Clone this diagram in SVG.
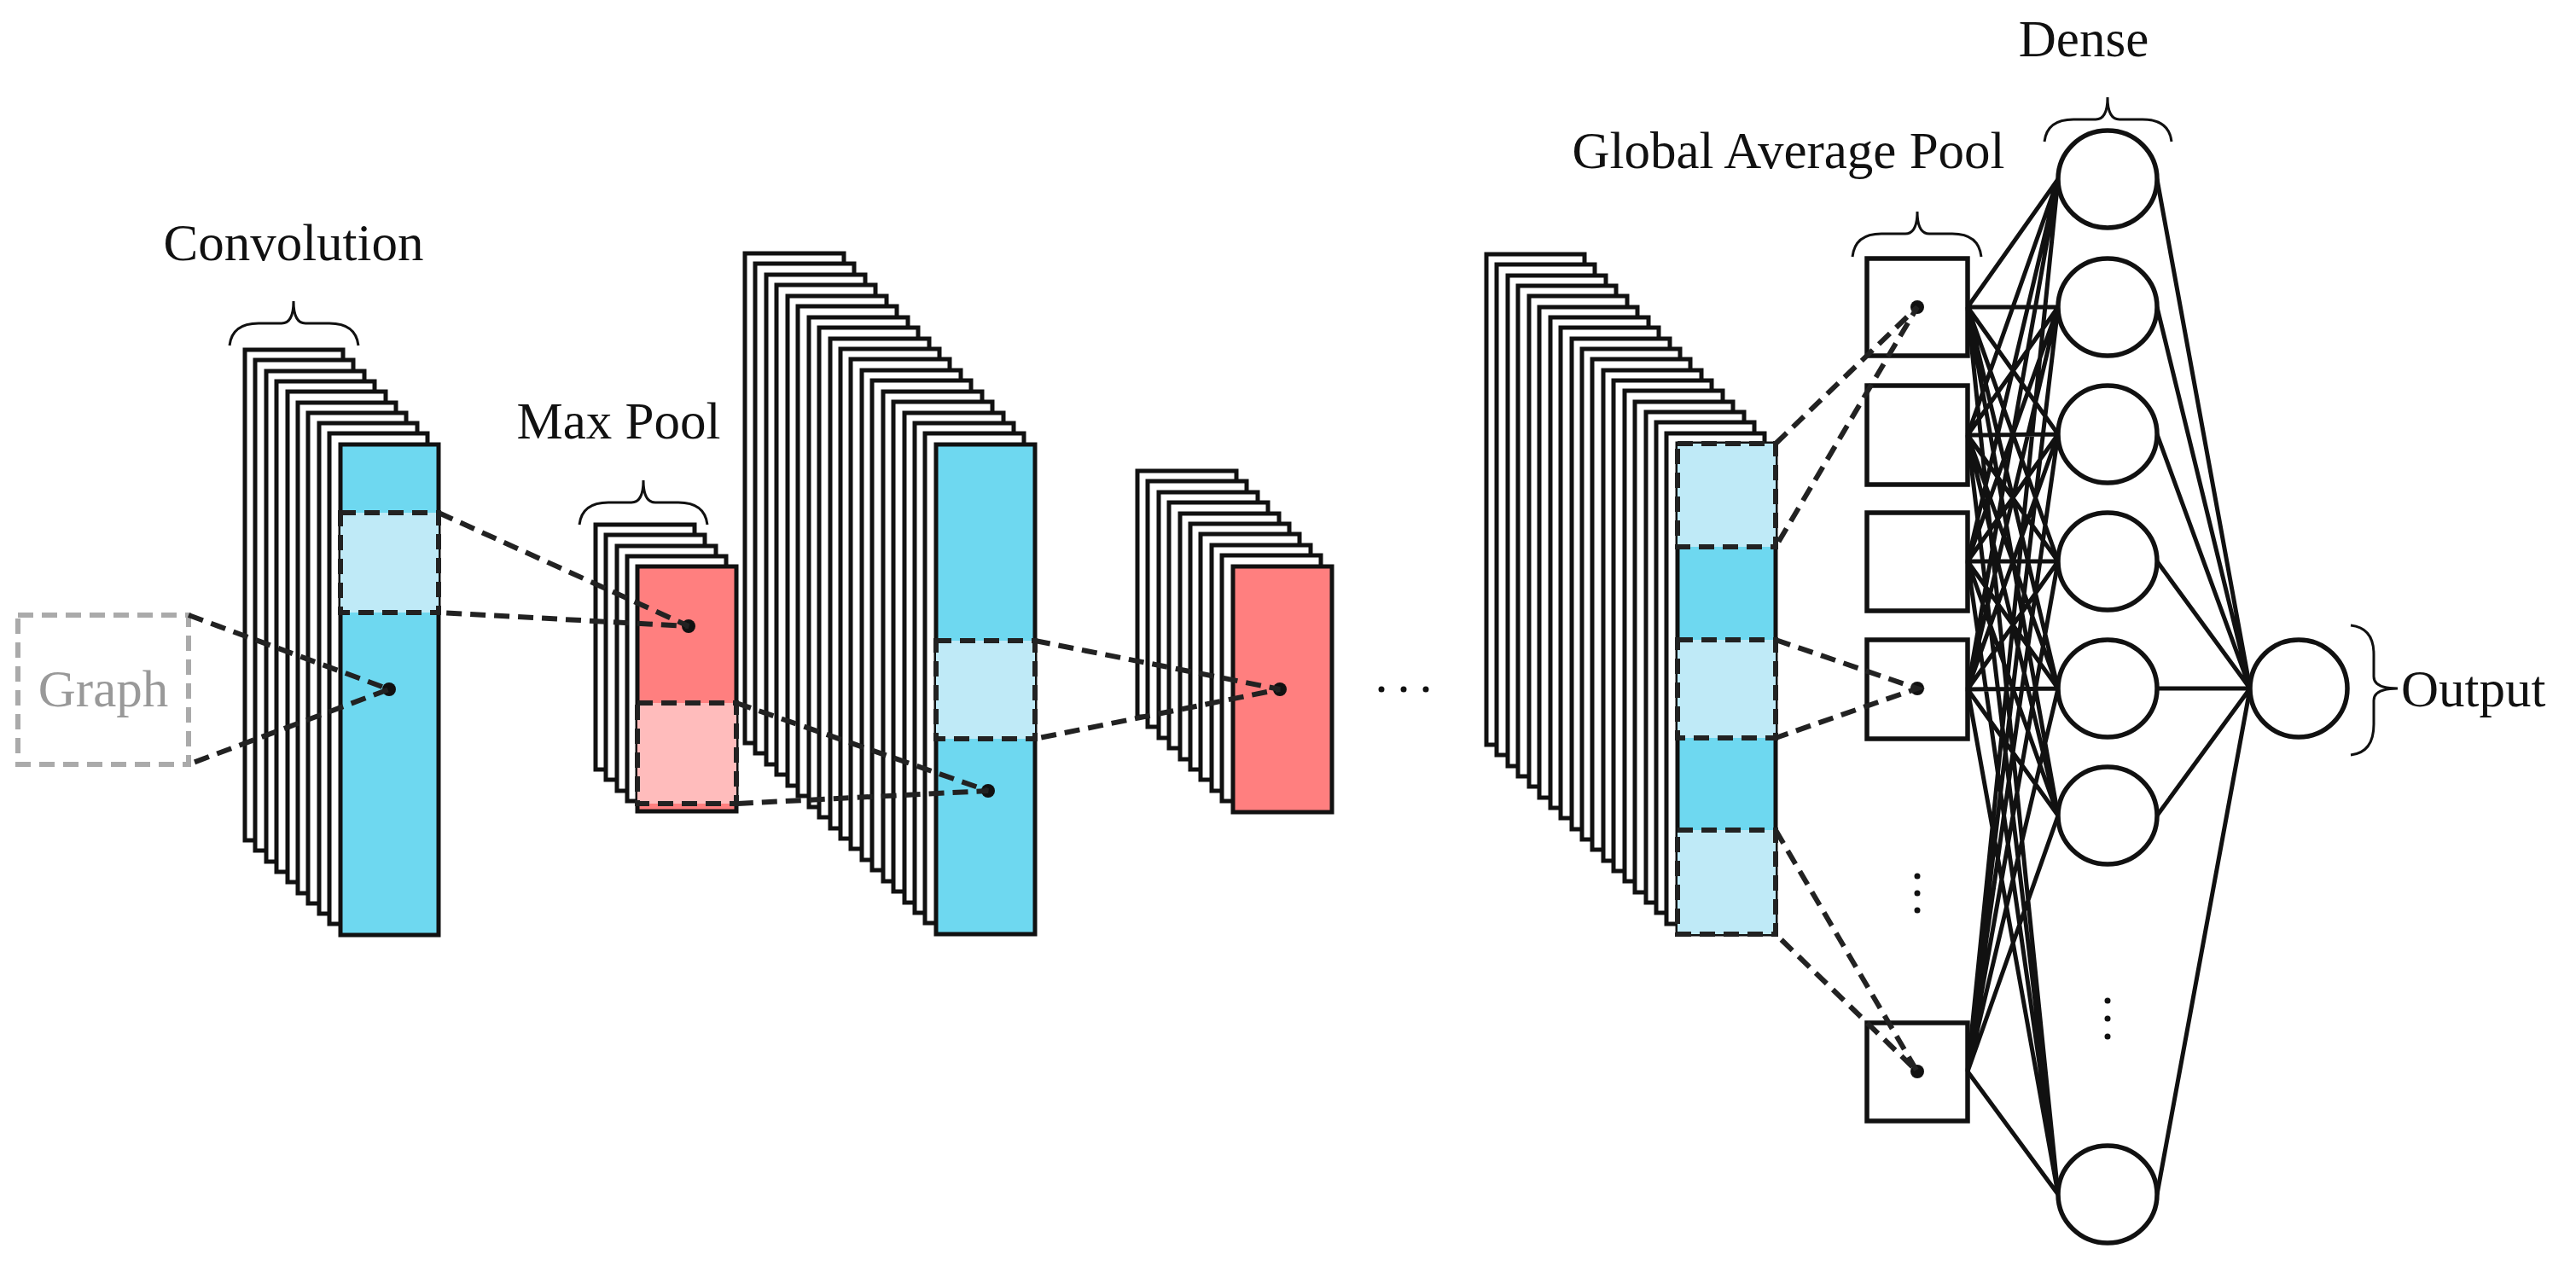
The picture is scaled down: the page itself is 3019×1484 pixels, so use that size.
<svg xmlns="http://www.w3.org/2000/svg" width="3019" height="1484" viewBox="0 0 3019 1484">
<style>
.l{fill:#fff;stroke:#111;stroke-width:5}
.blue{fill:#6ed8f0;stroke:#111;stroke-width:5}
.red{fill:#ff7f7f;stroke:#111;stroke-width:5}
.lb{fill:#bfeaf7;stroke:#222;stroke-width:6;stroke-dasharray:18 10}
.pk{fill:#ffbcbc;stroke:#222;stroke-width:6;stroke-dasharray:18 10}
.d{fill:none;stroke:#222;stroke-width:6;stroke-dasharray:18 10}
.s{stroke:#111;stroke-width:5;fill:none}
.n{fill:#fff;stroke:#111;stroke-width:5.5}
.br{fill:none;stroke:#111;stroke-width:3}
.t{font-family:"Liberation Serif",serif;font-size:61px;fill:#111}
.dot{fill:#111}
</style>
<rect width="3019" height="1484" fill="#fff"/>
<g id="graph">
<rect x="21" y="721" width="200" height="175" fill="none" stroke="#aaa" stroke-width="6" stroke-dasharray="18 10"/>
<text x="121" y="828" class="t" style="fill:#999" text-anchor="middle">Graph</text>
</g>
<g id="conv1">
<rect class="l" x="287" y="410" width="115" height="575"/><rect class="l" x="299" y="422" width="115" height="575"/><rect class="l" x="312" y="435" width="115" height="575"/><rect class="l" x="324" y="447" width="115" height="575"/><rect class="l" x="337" y="459" width="115" height="575"/><rect class="l" x="349" y="472" width="115" height="575"/><rect class="l" x="361" y="484" width="115" height="575"/><rect class="l" x="374" y="496" width="115" height="575"/><rect class="l" x="386" y="508" width="115" height="575"/>
<rect class="blue" x="399" y="521" width="115" height="575"/>
<rect class="lb" x="399" y="601" width="115" height="117"/>
<circle class="dot" cx="456" cy="808" r="8"/>
<text class="t" x="344" y="305" text-anchor="middle">Convolution</text>
<path class="br" d="M269 405 Q272 379 303 379 L330 379 Q344 379 344 353 Q344 379 358 379 L386 379 Q417 379 420 405"/>
</g>
<g id="maxpool1">
<rect class="l" x="698" y="615" width="116" height="287"/><rect class="l" x="710" y="627" width="116" height="287"/><rect class="l" x="723" y="640" width="116" height="287"/><rect class="l" x="735" y="652" width="116" height="287"/>
<rect class="red" x="747" y="664" width="116" height="287"/>
<rect class="pk" x="747" y="824" width="116" height="118"/>
<circle class="dot" cx="807" cy="734" r="8"/>
<text class="t" x="725" y="514" text-anchor="middle">Max Pool</text>
<path class="br" d="M679 615 Q682 589 713 589 L740 589 Q754 589 754 563 Q754 589 768 589 L795 589 Q826 589 829 615"/>
</g>
<g id="conv2">
<rect class="l" x="873" y="297" width="116" height="574"/><rect class="l" x="885" y="309" width="116" height="574"/><rect class="l" x="898" y="322" width="116" height="574"/><rect class="l" x="910" y="334" width="116" height="574"/><rect class="l" x="923" y="347" width="116" height="574"/><rect class="l" x="935" y="359" width="116" height="574"/><rect class="l" x="948" y="372" width="116" height="574"/><rect class="l" x="960" y="384" width="116" height="574"/><rect class="l" x="973" y="397" width="116" height="574"/><rect class="l" x="985" y="409" width="116" height="574"/><rect class="l" x="997" y="421" width="116" height="574"/><rect class="l" x="1010" y="434" width="116" height="574"/><rect class="l" x="1022" y="446" width="116" height="574"/><rect class="l" x="1035" y="459" width="116" height="574"/><rect class="l" x="1047" y="471" width="116" height="574"/><rect class="l" x="1060" y="484" width="116" height="574"/><rect class="l" x="1072" y="496" width="116" height="574"/><rect class="l" x="1084" y="508" width="116" height="574"/>
<rect class="blue" x="1097" y="521" width="116" height="574"/>
<rect class="lb" x="1097" y="751" width="116" height="115"/>
<circle class="dot" cx="1158" cy="927" r="8"/>
</g>
<g id="maxpool2">
<rect class="l" x="1333" y="552" width="116" height="288"/><rect class="l" x="1345" y="564" width="116" height="288"/><rect class="l" x="1358" y="577" width="116" height="288"/><rect class="l" x="1370" y="589" width="116" height="288"/><rect class="l" x="1383" y="602" width="116" height="288"/><rect class="l" x="1395" y="614" width="116" height="288"/><rect class="l" x="1407" y="626" width="116" height="288"/><rect class="l" x="1420" y="639" width="116" height="288"/><rect class="l" x="1432" y="651" width="116" height="288"/>
<rect class="red" x="1445" y="664" width="116" height="288"/>
<circle class="dot" cx="1500" cy="808" r="8"/>
</g>
<g id="ellipsis">
<circle class="dot" cx="1619" cy="808" r="3.5"/><circle class="dot" cx="1645" cy="808" r="3.5"/><circle class="dot" cx="1671" cy="808" r="3.5"/>
</g>
<g id="convN">
<rect class="l" x="1742" y="298" width="115" height="575"/><rect class="l" x="1754" y="310" width="115" height="575"/><rect class="l" x="1767" y="323" width="115" height="575"/><rect class="l" x="1779" y="335" width="115" height="575"/><rect class="l" x="1792" y="347" width="115" height="575"/><rect class="l" x="1804" y="360" width="115" height="575"/><rect class="l" x="1817" y="372" width="115" height="575"/><rect class="l" x="1829" y="384" width="115" height="575"/><rect class="l" x="1842" y="397" width="115" height="575"/><rect class="l" x="1854" y="409" width="115" height="575"/><rect class="l" x="1866" y="421" width="115" height="575"/><rect class="l" x="1879" y="434" width="115" height="575"/><rect class="l" x="1891" y="446" width="115" height="575"/><rect class="l" x="1904" y="458" width="115" height="575"/><rect class="l" x="1916" y="471" width="115" height="575"/><rect class="l" x="1929" y="483" width="115" height="575"/><rect class="l" x="1941" y="495" width="115" height="575"/><rect class="l" x="1953" y="508" width="115" height="575"/>
<rect class="blue" x="1966" y="520" width="115" height="575"/>
<rect class="lb" x="1966" y="520" width="115" height="121"/>
<rect class="lb" x="1966" y="750" width="115" height="115"/>
<rect class="lb" x="1966" y="973" width="115" height="122"/>
</g>
<g id="gap">
<text class="t" x="2096" y="197" text-anchor="middle">Global Average Pool</text>
<path class="br" d="M2171 301 Q2174 274 2205 274 L2233 274 Q2247 274 2247 248 Q2247 274 2261 274 L2288 274 Q2319 274 2322 301"/>
<rect class="n" x="2188" y="303" width="118" height="114"/>
<rect class="n" x="2188" y="452" width="118" height="116"/>
<rect class="n" x="2188" y="601" width="118" height="115"/>
<rect class="n" x="2188" y="750" width="118" height="116"/>
<rect class="n" x="2188" y="1199" width="118" height="115"/>
<circle class="dot" cx="2247" cy="360" r="8"/><circle class="dot" cx="2247" cy="807" r="8"/><circle class="dot" cx="2247" cy="1256" r="8"/>
<circle class="dot" cx="2247" cy="1027" r="3.5"/><circle class="dot" cx="2247" cy="1047" r="3.5"/><circle class="dot" cx="2247" cy="1067" r="3.5"/>
</g>
<g id="connectors">
<path class="d" d="M221 721 L456 808 L221 896"/>
<path class="d" d="M514 601 L807 734 L514 718"/>
<path class="d" d="M863 824 L1158 927 L863 942"/>
<path class="d" d="M1213 751 L1500 808 L1213 866"/>
<path class="d" d="M2081 520 L2247 360 L2081 641"/>
<path class="d" d="M2081 750 L2247 807 L2081 865"/>
<path class="d" d="M2081 973 L2247 1256 L2081 1095"/>
<path class="s" d="M2306 360 L2412 210 M2306 360 L2412 360 M2306 360 L2412 509 M2306 360 L2412 658 M2306 360 L2412 807 M2306 360 L2412 956 M2306 360 L2412 1400
M2306 510 L2412 210 M2306 510 L2412 360 M2306 510 L2412 509 M2306 510 L2412 658 M2306 510 L2412 807 M2306 510 L2412 956 M2306 510 L2412 1400
M2306 658 L2412 210 M2306 658 L2412 360 M2306 658 L2412 509 M2306 658 L2412 658 M2306 658 L2412 807 M2306 658 L2412 956 M2306 658 L2412 1400
M2306 808 L2412 210 M2306 808 L2412 360 M2306 808 L2412 509 M2306 808 L2412 658 M2306 808 L2412 807 M2306 808 L2412 956 M2306 808 L2412 1400
M2306 1256 L2412 210 M2306 1256 L2412 360 M2306 1256 L2412 509 M2306 1256 L2412 658 M2306 1256 L2412 807 M2306 1256 L2412 956 M2306 1256 L2412 1400"/>
<path class="s" d="M2528 210 L2637 807 M2528 360 L2637 807 M2528 509 L2637 807 M2528 658 L2637 807 M2528 807 L2637 807 M2528 956 L2637 807 M2528 1400 L2637 807"/>
</g>
<g id="dense">
<text class="t" x="2442" y="66" text-anchor="middle">Dense</text>
<path class="br" d="M2396 166 Q2399 140 2430 140 L2456 140 Q2470 140 2470 114 Q2470 140 2484 140 L2511 140 Q2542 140 2545 166"/>
<ellipse class="n" cx="2470" cy="210" rx="58" ry="57"/>
<ellipse class="n" cx="2470" cy="360" rx="58" ry="57"/>
<ellipse class="n" cx="2470" cy="509" rx="58" ry="57"/>
<ellipse class="n" cx="2470" cy="658" rx="58" ry="57"/>
<ellipse class="n" cx="2470" cy="807" rx="58" ry="57"/>
<ellipse class="n" cx="2470" cy="956" rx="58" ry="57"/>
<ellipse class="n" cx="2470" cy="1400" rx="58" ry="57"/>
<circle class="dot" cx="2470" cy="1173" r="3.5"/><circle class="dot" cx="2470" cy="1194" r="3.5"/><circle class="dot" cx="2470" cy="1215" r="3.5"/>
</g>
<g id="output">
<ellipse class="n" cx="2694" cy="807" rx="57" ry="57"/>
<path class="br" d="M2755 733 Q2782 736 2782 767 L2782 793 Q2782 807 2810 807 Q2782 807 2782 821 L2782 849 Q2782 882 2755 885"/>
<text class="t" x="2814" y="828">Output</text>
</g>
</svg>
